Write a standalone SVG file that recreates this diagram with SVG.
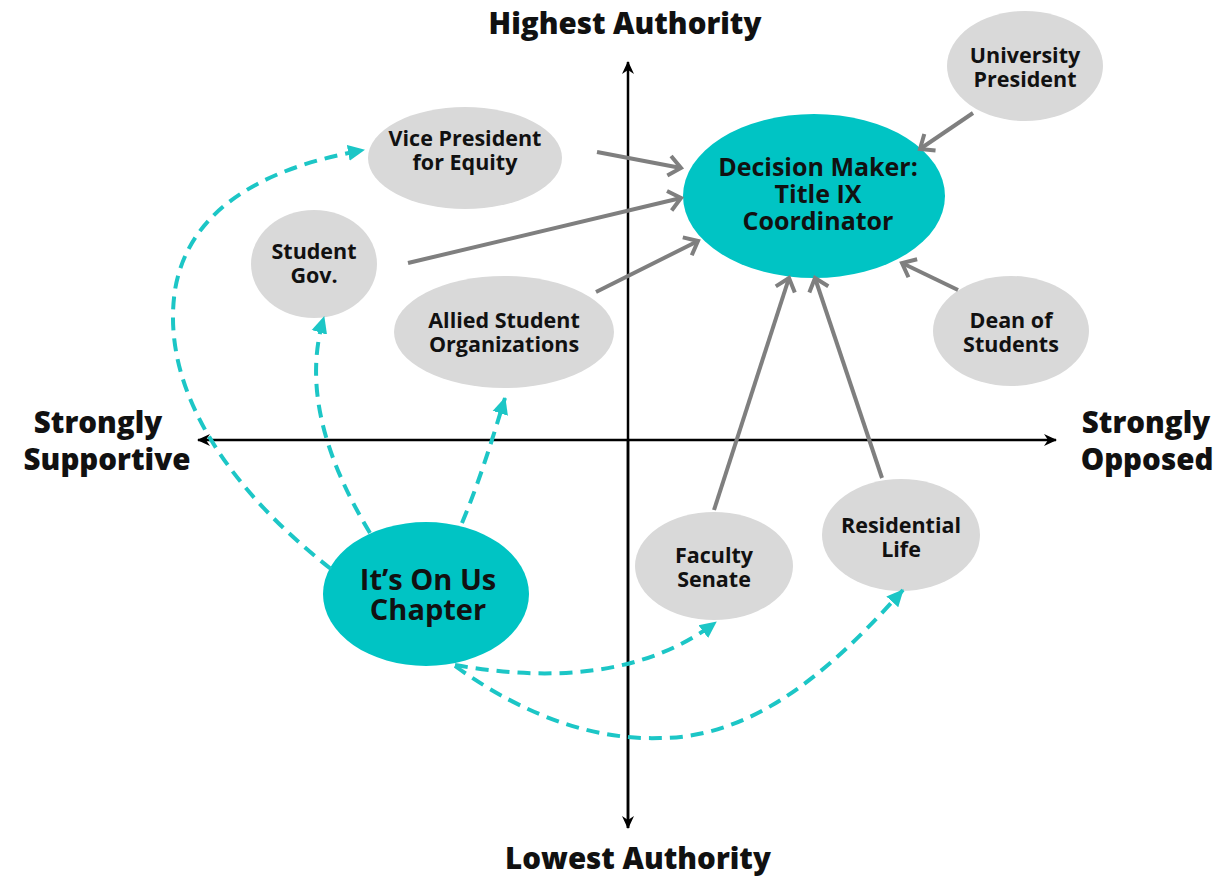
<svg xmlns="http://www.w3.org/2000/svg" width="1230" height="882" viewBox="0 0 1230 882">
<style>
.axis{stroke:#000;stroke-width:2.5;fill:none}
.title{font-family:"Open Sans","Liberation Sans",sans-serif;font-weight:800;font-size:29.5px;fill:#111}
.n{fill:#d9d9d9}
.key{fill:#00c4c4}
.t{font-family:"Open Sans","Liberation Sans",sans-serif;font-weight:700;font-size:21.5px;fill:#111;text-anchor:middle}
.g{stroke:#7f7f7f;stroke-width:4;fill:none}
.c{stroke:#1cc6c6;stroke-width:4;fill:none;stroke-dasharray:13 8}
</style>
<defs>
<marker id="ax" markerUnits="userSpaceOnUse" markerWidth="14" markerHeight="14" refX="12" refY="7" orient="auto">
<path d="M0,1 L13,7 L0,13 L4,7 Z" fill="#000"/>
</marker>
<marker id="ga" markerUnits="userSpaceOnUse" markerWidth="22" markerHeight="26" refX="17" refY="13" orient="auto">
<path d="M5,3 L17,13 L5,23" fill="none" stroke="#7f7f7f" stroke-width="4"/>
</marker>
<marker id="ca" markerUnits="userSpaceOnUse" markerWidth="20" markerHeight="20" refX="16" refY="10" orient="auto">
<path d="M0,2 L17,10 L0,18 Z" fill="#1cc6c6"/>
</marker>
</defs>

<g id="axes">
<line class="axis" x1="628" y1="828" x2="628" y2="62" marker-end="url(#ax)"/>
<line class="axis" x1="628" y1="440" x2="628" y2="828" marker-end="url(#ax)"/>
<line class="axis" x1="628" y1="440" x2="198" y2="440" marker-end="url(#ax)"/>
<line class="axis" x1="628" y1="440" x2="1056" y2="440" marker-end="url(#ax)"/>
<text class="title" x="625" y="34" text-anchor="middle">Highest Authority</text>
<text class="title" x="638" y="869" text-anchor="middle">Lowest Authority</text>
<text class="title" x="98" y="433" text-anchor="middle">Strongly</text>
<text class="title" x="107" y="470" text-anchor="middle">Supportive</text>
<text class="title" x="1146" y="433" text-anchor="middle">Strongly</text>
<text class="title" x="1147" y="470" text-anchor="middle">Opposed</text>
</g>

<g id="n-vp"><ellipse class="n" cx="465" cy="158" rx="97" ry="51"/><text class="t" x="465" y="146">Vice President</text><text class="t" x="465" y="170">for Equity</text></g>
<g id="n-sg"><ellipse class="n" cx="314" cy="264" rx="63" ry="54"/><text class="t" x="314" y="259">Student</text><text class="t" x="314" y="283">Gov.</text></g>
<g id="n-allied"><ellipse class="n" cx="504" cy="332" rx="110" ry="56"/><text class="t" x="504" y="328">Allied Student</text><text class="t" x="504" y="352">Organizations</text></g>
<g id="n-dm"><ellipse class="key" cx="814" cy="196" rx="131" ry="82"/><text class="t" style="font-size:25px" x="818" y="176">Decision Maker:</text><text class="t" style="font-size:25px" x="818" y="203">Title IX</text><text class="t" style="font-size:25px" x="818" y="230">Coordinator</text></g>
<g id="n-up"><ellipse class="n" cx="1025" cy="66" rx="78" ry="55"/><text class="t" x="1025" y="63">University</text><text class="t" x="1025" y="87">President</text></g>
<g id="n-dean"><ellipse class="n" cx="1011" cy="331" rx="78" ry="55"/><text class="t" x="1011" y="328">Dean of</text><text class="t" x="1011" y="352">Students</text></g>
<g id="n-fs"><ellipse class="n" cx="714" cy="566" rx="79" ry="54"/><text class="t" x="714" y="563">Faculty</text><text class="t" x="714" y="587">Senate</text></g>
<g id="n-rl"><ellipse class="n" cx="901" cy="535" rx="79" ry="56"/><text class="t" x="901" y="533">Residential</text><text class="t" x="901" y="557">Life</text></g>
<g id="n-iou"><ellipse class="key" cx="426" cy="594" rx="103" ry="72"/><text class="t" style="font-size:29px" x="428" y="590">It’s On Us</text><text class="t" style="font-size:29px" x="428" y="620">Chapter</text></g>

<g id="connectors">
<line class="g" x1="597" y1="152" x2="681" y2="168" marker-end="url(#ga)"/>
<line class="g" x1="408" y1="263" x2="681" y2="198" marker-end="url(#ga)"/>
<line class="g" x1="596" y1="292" x2="698" y2="241" marker-end="url(#ga)"/>
<line class="g" x1="973" y1="113" x2="920" y2="149" marker-end="url(#ga)"/>
<line class="g" x1="958" y1="290" x2="902" y2="263" marker-end="url(#ga)"/>
<line class="g" x1="714" y1="510" x2="789" y2="278" marker-end="url(#ga)"/>
<line class="g" x1="882" y1="478" x2="815" y2="278" marker-end="url(#ga)"/>

<path class="c" d="M331,569 C230,490 160,390 175,290 C190,200 280,165 364,150" marker-end="url(#ca)"/>
<path class="c" d="M370,533 C320,450 305,380 324,317" marker-end="url(#ca)"/>
<path class="c" d="M462,523 C480,480 492,440 505,398" marker-end="url(#ca)"/>
<path class="c" d="M455,665 C540,680 640,680 716,622" marker-end="url(#ca)"/>
<path class="c" d="M455,666 C530,720 600,740 660,738 C760,738 840,660 903,590" marker-end="url(#ca)"/>
</g>
</svg>
